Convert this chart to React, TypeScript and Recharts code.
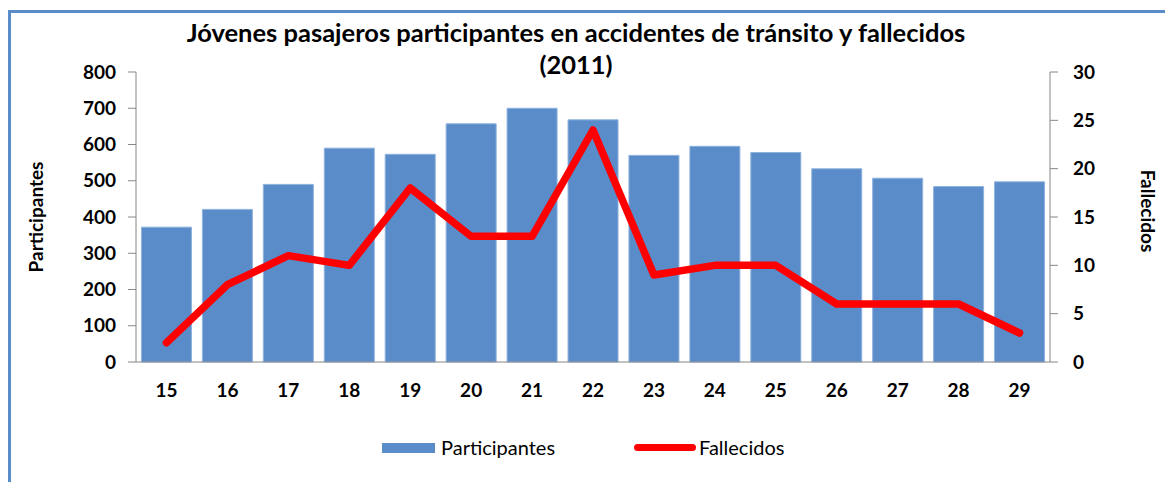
import { ComposedChart, Bar, Line, XAxis, YAxis } from "recharts";

const ages = ["15", "16", "17", "18", "19", "20", "21", "22", "23", "24", "25", "26", "27", "28", "29"];
const participantes = [372, 421, 490, 590, 573, 657, 700, 668, 570, 595, 578, 533, 507, 484, 497];
const fallecidos = [2, 8, 11, 10, 18, 13, 13, 24, 9, 10, 10, 6, 6, 6, 3];
const leftTicks = [0, 100, 200, 300, 400, 500, 600, 700, 800];
const rightTicks = [0, 5, 10, 15, 20, 25, 30];

const data = ages.map((age, i) => ({
  age,
  participantes: participantes[i],
  fallecidos: fallecidos[i],
}));

const font = "Lato, Carlito, Calibri, sans-serif";
const blue = "#598cc9";
const red = "#ff0000";
const axisGray = "#868686";
const tickStyle = { fill: "#000", fontSize: 19, fontWeight: 700, fontFamily: font };

export default function App() {
  return (
    <div style={{ position: "absolute", left: 0, top: 0, width: 1165, height: 482, background: "#fff", overflow: "hidden", fontFamily: font }}>
      {/* chart frame: only left and top edges are visible */}
      <div style={{ position: "absolute", left: 8, top: 10, width: 1200, height: 520, borderLeft: `3px solid ${blue}`, borderTop: `3px solid ${blue}` }} />
      <div style={{ position: "absolute", left: 0, top: 16, width: 1152, textAlign: "center", fontSize: 25.5, fontWeight: 700, lineHeight: "32px", color: "#000" }}>
        Jóvenes pasajeros participantes en accidentes de tránsito y fallecidos
        <br />
        (2011)
      </div>
      <div style={{ position: "absolute", left: 35, top: 217, transform: "translate(-50%, -50%) rotate(-90deg)", fontSize: 19, fontWeight: 700, whiteSpace: "nowrap" }}>
        Participantes
      </div>
      <div style={{ position: "absolute", left: 1148, top: 211, transform: "translate(-50%, -50%) rotate(90deg)", fontSize: 19, fontWeight: 700, whiteSpace: "nowrap" }}>
        Fallecidos
      </div>
      <div style={{ position: "absolute", left: 0, top: 0 }}>
        <ComposedChart width={1165} height={482} data={data} margin={{ top: 72, left: 66, right: 45, bottom: 90 }} barCategoryGap="9%">
          <XAxis
            dataKey="age"
            height={30}
            tickLine={false}
            tickSize={0}
            tickMargin={22}
            axisLine={{ stroke: axisGray }}
            tick={tickStyle}
          />
          <YAxis
            yAxisId="left"
            width={70}
            domain={[0, 800]}
            ticks={leftTicks}
            tickSize={8}
            tickMargin={12}
            axisLine={{ stroke: axisGray }}
            tickLine={{ stroke: axisGray }}
            tick={tickStyle}
            interval={0}
          />
          <YAxis
            yAxisId="right"
            orientation="right"
            width={70}
            domain={[0, 30]}
            ticks={rightTicks}
            tickSize={8}
            tickMargin={15}
            axisLine={{ stroke: axisGray }}
            tickLine={{ stroke: axisGray }}
            tick={{ ...tickStyle, textAnchor: "start" }}
            interval={0}
          />
          <Bar yAxisId="left" dataKey="participantes" fill={blue} stroke="#8fb2de" strokeWidth={1} isAnimationActive={false} />
          <Line
            yAxisId="right"
            dataKey="fallecidos"
            type="linear"
            stroke={red}
            strokeWidth={7.5}
            strokeLinecap="round"
            strokeLinejoin="round"
            dot={false}
            activeDot={false}
            isAnimationActive={false}
          />
        </ComposedChart>
      </div>
      {/* legend */}
      <div style={{ position: "absolute", left: 382, top: 443, width: 53, height: 10, background: blue }} />
      <div style={{ position: "absolute", left: 441, top: 435, fontSize: 20, lineHeight: "24px", color: "#000" }}>Participantes</div>
      <div style={{ position: "absolute", left: 634, top: 444, width: 62, height: 7, borderRadius: 4, background: red }} />
      <div style={{ position: "absolute", left: 699, top: 435, fontSize: 20, lineHeight: "24px", color: "#000" }}>Fallecidos</div>
    </div>
  );
}
